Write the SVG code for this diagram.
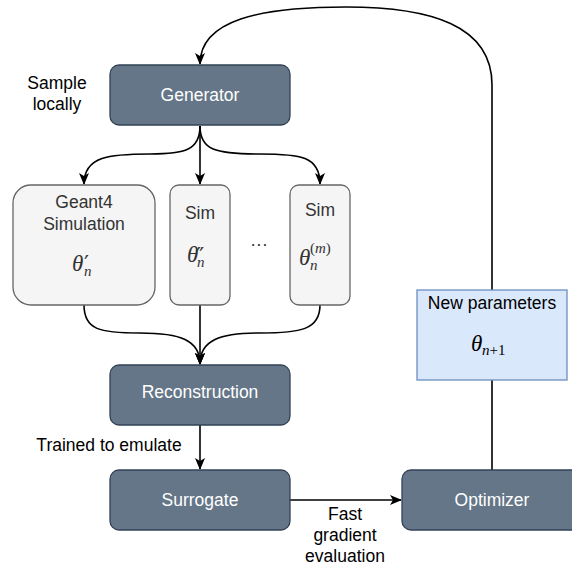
<svg xmlns="http://www.w3.org/2000/svg" width="572" height="568" viewBox="0 0 572 568">
<defs>
<style>
.dark rect{fill:#647687;stroke:#314354;stroke-width:1.3}
.dark text{fill:#ffffff}
.light rect{fill:#f5f5f5;stroke:#666666;stroke-width:1.3}
.light text{fill:#333333}
text{font-family:"Liberation Sans",Arial,sans-serif;font-size:17.5px;text-anchor:middle}
.lbl{fill:#000000}
.math{font-family:"Liberation Serif","DejaVu Serif",serif;font-style:italic;font-size:23px;text-anchor:start}
.sub{font-size:15px}
.up{font-style:normal;font-size:15px}
.pr{font-family:"DejaVu Sans",sans-serif;font-style:normal;font-size:22px}
.edge{fill:none;stroke:#000000;stroke-width:1.6}
</style>
<marker id="arr" viewBox="0 0 12 10" refX="11" refY="5" markerWidth="12" markerHeight="10" markerUnits="userSpaceOnUse" orient="auto">
<path d="M0,0 L12,5 L0,10 L3,5 Z" fill="#000000"/>
</marker>
</defs>
<g id="connectors">
<path class="edge" d="M492,470 L492,85 C492,25 430,7 346,7 C260,7 200,20 200,64" marker-end="url(#arr)"/>
<path class="edge" d="M200,126 C200,150 185,154 150,154 C110,154 84,156 84,184" marker-end="url(#arr)"/>
<path class="edge" d="M200,126 L200,184" marker-end="url(#arr)"/>
<path class="edge" d="M200,126 C200,150 215,154 260,154 C300,154 320,156 320,184" marker-end="url(#arr)"/>
<path class="edge" d="M84,305 C84,330 100,333 140,333 C180,333 200,340 200,364" marker-end="url(#arr)"/>
<path class="edge" d="M200,305 L200,364" marker-end="url(#arr)"/>
<path class="edge" d="M320,305 C320,330 300,333 260,333 C220,333 200,340 200,364" marker-end="url(#arr)"/>
<path class="edge" d="M200,425 L200,469" marker-end="url(#arr)"/>
<path class="edge" d="M290,500 L401,500" marker-end="url(#arr)"/>
<text class="lbl" x="109" y="451">Trained to emulate</text>
<text class="lbl" x="345" y="520">Fast</text>
<text class="lbl" x="345" y="541">gradient</text>
<text class="lbl" x="345" y="562">evaluation</text>
</g>
<g id="sample-label"><text class="lbl" x="57" y="89">Sample</text><text class="lbl" x="57" y="110">locally</text></g>
<g id="generator" class="dark"><rect x="110" y="65" width="180" height="60" rx="9"/><text x="200" y="101">Generator</text></g>
<g id="geant4" class="light"><rect x="13" y="185" width="142" height="120" rx="18"/><text x="84" y="208">Geant4</text><text x="84" y="230">Simulation</text>
<text class="math" x="72" y="271">θ<tspan class="pr" x="84" y="271">′</tspan><tspan class="sub" x="84" y="276">n</tspan></text></g>
<g id="sim2" class="light"><rect x="170" y="185" width="60" height="120" rx="9"/><text x="200" y="219">Sim</text>
<text class="math" x="187" y="262">θ<tspan class="pr" x="196" y="263">″</tspan><tspan class="sub" x="197" y="267">n</tspan></text></g>
<g id="dots"><text x="259" y="250" fill="#333333" font-size="15">···</text></g>
<g id="simm" class="light"><rect x="290" y="185" width="60" height="120" rx="9"/><text x="320" y="216">Sim</text>
<text class="math" x="299" y="265">θ<tspan class="up" x="310" y="253">(</tspan><tspan class="sub">m</tspan><tspan class="up">)</tspan><tspan class="sub" x="310" y="270">n</tspan></text></g>
<g id="reconstruction" class="dark"><rect x="110" y="365" width="180" height="60" rx="9"/><text x="200" y="398">Reconstruction</text></g>
<g id="surrogate" class="dark"><rect x="110" y="470" width="180" height="60" rx="9"/><text x="200" y="506">Surrogate</text></g>
<g id="optimizer" class="dark"><rect x="402" y="470" width="180" height="60" rx="9"/><text x="492" y="506">Optimizer</text></g>
<g id="new-parameters"><rect x="417" y="290" width="150" height="90" fill="#dae8fc" stroke="#6c8ebf" stroke-width="1.3"/><text x="492" y="309" fill="#000000">New parameters</text>
<text class="math" x="471" y="351" fill="#000000">θ<tspan class="sub" x="482" y="355">n</tspan><tspan class="up">+1</tspan></text></g>
</svg>
